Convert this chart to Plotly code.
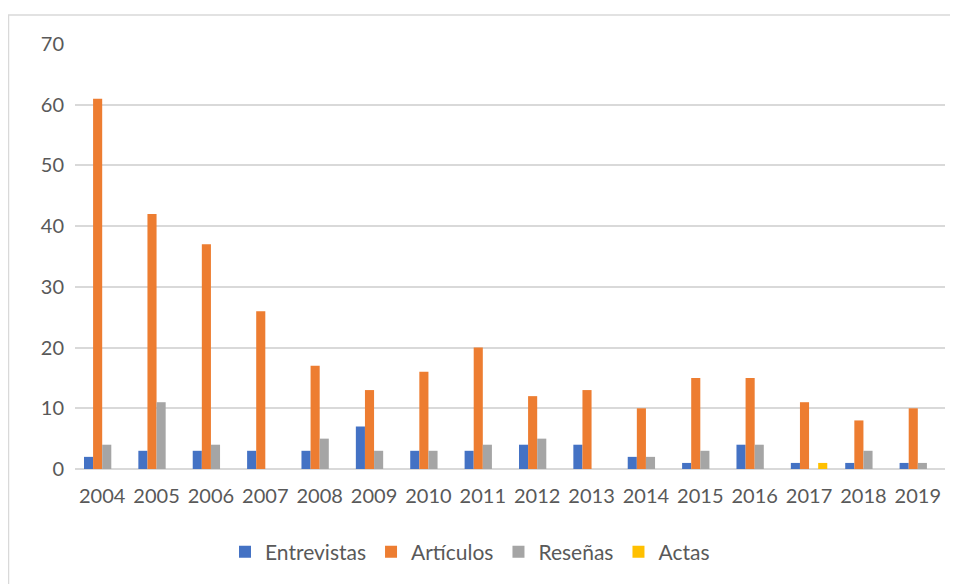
import plotly.graph_objects as go

years = [str(y) for y in range(2004, 2020)]
entrevistas = [2, 3, 3, 3, 3, 7, 3, 3, 4, 4, 2, 1, 4, 1, 1, 1]
articulos = [61, 42, 37, 26, 17, 13, 16, 20, 12, 13, 10, 15, 15, 11, 8, 10]
resenas = [4, 11, 4, 0, 5, 3, 3, 4, 5, 0, 2, 3, 4, 0, 3, 1]
actas = [0, 0, 0, 0, 0, 0, 0, 0, 0, 0, 0, 0, 0, 1, 0, 0]

series = [
    ("Entrevistas", entrevistas, "#4472C4"),
    ("Artículos", articulos, "#ED7D31"),
    ("Reseñas", resenas, "#A5A5A5"),
    ("Actas", actas, "#FFC000"),
]

fig = go.Figure()
for name, vals, color in series:
    fig.add_trace(go.Bar(x=years, y=vals, name=name, marker_color=color,
                         marker_line_width=0))

# page body has an 8px margin; figure is offset accordingly
W, H = 950, 576
l, r, t, b = 67, 13, 36, 115
pw = W - l - r
ph = H - t - b

fig.update_layout(
    width=W, height=H,
    margin=dict(l=l, r=r, t=t, b=b),
    paper_bgcolor="white", plot_bgcolor="white",
    barmode="group", bargap=0.33, bargroupgap=0,
    font=dict(family="Lato, Carlito, sans-serif", size=20, color="#595959"),
    xaxis=dict(showgrid=False, showline=False, ticks="", tickfont=dict(size=20),
               ticklabelstandoff=13),
    yaxis=dict(range=[0, 70], dtick=10, showgrid=True, gridcolor="#d9d9d9",
               gridwidth=1.5, zeroline=True, zerolinecolor="#d9d9d9",
               zerolinewidth=1.5, ticks="", tickfont=dict(size=20),
               ticklabelstandoff=10),
    legend=dict(orientation="h", x=(462 - l) / pw, xanchor="center",
                y=-(544 - t - ph) / ph, yanchor="middle", font=dict(size=21),
                traceorder="normal", itemwidth=30),
    shapes=[dict(type="rect", xref="paper", yref="paper",
                 x0=(0.5 - l) / pw, x1=1.2, y0=-0.5, y1=(H - b - 7) / ph,
                 line=dict(color="#d9d9d9", width=1.5))],
)

fig.write_html("out.html")
